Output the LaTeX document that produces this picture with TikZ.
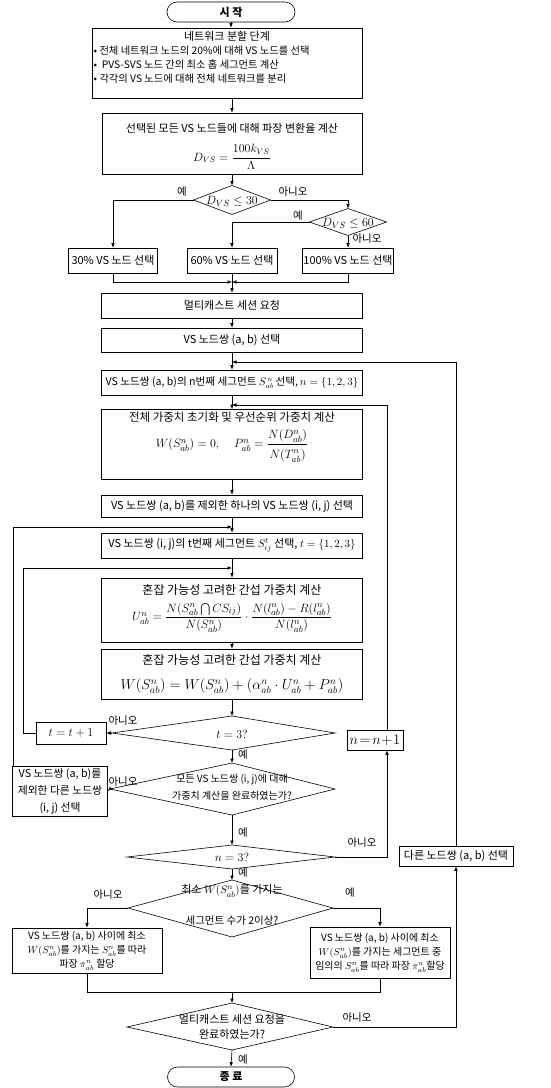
\documentclass[tikz,border=0pt]{standalone}
\usepackage{amsmath}
\usepackage{fontspec}
\setmainfont{Noto Sans CJK KR}
\usetikzlibrary{arrows.meta,shapes.misc}
\begin{document}
\begin{tikzpicture}[x=1pt,y=-1pt,
  every node/.style={inner sep=0.5pt,font=\fontsize{11}{13}\selectfont},
  box/.style={draw,line width=0.6pt,rectangle,inner sep=1pt},
  term/.style={draw,line width=0.6pt,rounded rectangle,minimum width=129,minimum height=20,font=\fontsize{11}{13}\selectfont\bfseries},
  ln/.style={line width=0.6pt},
  arr/.style={line width=0.6pt,-{Latex[length=4.5pt,width=3.6pt]}},
  lbl/.style={font=\fontsize{10.5}{12}\selectfont},
  fml/.style={font=\fontsize{13}{15}\selectfont},
  ttl/.style={font=\fontsize{12}{14}\selectfont},
]
\useasboundingbox (0,0) rectangle (550,1088);

% ---------- nodes ----------
\node[term] (start) at (231,12) {시 작};

\node[box,minimum width=270,minimum height=70] (b1) at (227,63) {};
\node (b1t) at (227,36) {네트워크 분할 단계};
\node[anchor=west,align=left,font=\fontsize{10.3}{14}\selectfont] (b1l) at (93,65)
  {• 전체 네트워크 노드의 20\%에 대해 VS 노드를 선택\\•\ \ PVS-SVS 노드 간의 최소 홉 세그먼트 계산\\• 각각의 VS 노드에 대해 전체 네트워크를 분리};

\node[box,minimum width=260,minimum height=61] (b2) at (232,143.5) {};
\node (b2t) at (232,128) {선택된 모든 VS 노드들에 대해 파장 변환율 계산};
\node[font=\fontsize{11.5}{13}\selectfont] (b2f) at (232,157) {$D_{VS} = \dfrac{100k_{VS}}{\Lambda}$};

% diamond 1
\coordinate (d1n) at (232,185.5); \coordinate (d1e) at (270.5,200);
\coordinate (d1s) at (232,214.5); \coordinate (d1w) at (193.5,200);
\draw[ln] (d1n) -- (d1e) -- (d1s) -- (d1w) -- cycle;
\node[fml] (d1t) at (232,201) {$D_{VS}\le 30$};
% diamond 2
\coordinate (d2n) at (348,208.5); \coordinate (d2e) at (386.5,222);
\coordinate (d2s) at (348,235.5); \coordinate (d2w) at (309.5,222);
\draw[ln] (d2n) -- (d2e) -- (d2s) -- (d2w) -- cycle;
\node[fml] (d2t) at (348,223) {$D_{VS}\le 60$};

\node[box,minimum width=89,minimum height=25] (p30) at (113,260.5) {30\% VS 노드 선택};
\node[box,minimum width=90,minimum height=25] (p60) at (232,260.5) {60\% VS 노드 선택};
\node[box,minimum width=90,minimum height=25] (p100) at (348,260.5) {100\% VS 노드 선택};
\coordinate (m1) at (232,282);

\node[box,minimum width=261,minimum height=25] (b3) at (232,305.5) {멀티캐스트 세션 요청};
\node[box,minimum width=261,minimum height=24] (b4) at (232,340) {VS 노드쌍 (a, b) 선택};
\coordinate (m2) at (232,362);
\node[box,minimum width=261,minimum height=25,font=\fontsize{10.6}{13}\selectfont] (b5) at (232,382.5)
  {VS 노드쌍 (a, b)의 n번째 세그먼트 $S^{\,n}_{ab}$\,선택,$\,n = \{1, 2, 3\}$};
\coordinate (m3) at (232,405);

\node[box,minimum width=261,minimum height=70] (b6) at (232,444.5) {};
\node[font=\fontsize{11.5}{13}\selectfont] (b6t) at (232,417) {전체 가중치 초기화 및 우선순위 가중치 계산};
\node[fml] (b6f) at (232,446)
  {$W(S^n_{ab}) = 0,\quad P^n_{ab} = \dfrac{N(D^n_{ab})\rule[-3pt]{0pt}{0pt}}{\rule{0pt}{12pt}N(T^n_{ab})}$};

\node[box,minimum width=261,minimum height=22] (b7) at (232,506)
  {VS 노드쌍 (a, b)를 제외한 하나의 VS 노드쌍 (i, j) 선택};
\coordinate (m4) at (232,527);
\node[box,minimum width=261,minimum height=25] (b8) at (232,545.5)
  {VS 노드쌍 (i, j)의 t번째 세그먼트 $S^t_{ij}$ 선택, $t = \{1, 2, 3\}$};
\coordinate (m5) at (232,568);

\node[box,minimum width=261,minimum height=64] (b9) at (232,610) {};
\node[ttl] (b9t) at (232,590) {혼잡 가능성 고려한 간섭 가중치 계산};
\node[fml] (b9f) at (232,618)
  {$U^n_{ab} = \dfrac{N(S^n_{ab}\bigcap CS_{ij})}{N(S^n_{ab})}\cdot\dfrac{N(l^n_{ab})-R(l^n_{ab})}{N(l^n_{ab})}$};

\node[box,minimum width=261,minimum height=50] (b10) at (232,674) {};
\node[ttl] (b10t) at (232,660) {혼잡 가능성 고려한 간섭 가중치 계산};
\node[font=\fontsize{14}{16}\selectfont] (b10f) at (232,686)
  {$W(S^n_{ab}) = W(S^n_{ab}) + (\alpha^n_{ab}\cdot U^n_{ab} + P^n_{ab})$};

% diamond 3: t = 3?
\coordinate (d3n) at (232,716); \coordinate (d3e) at (335,733);
\coordinate (d3s) at (232,750); \coordinate (d3w) at (112,733);
\draw[ln] (d3n) -- (d3e) -- (d3s) -- (d3w) -- cycle;
\node[fml] (d3t) at (232,734) {$t = 3?$};
\node[box,minimum width=70,minimum height=22,font=\fontsize{13}{15}\selectfont] (tbox) at (71,733) {$t = t + 1$};
\coordinate (lt) at (23,568);

% diamond 4
\coordinate (d4n) at (232,763); \coordinate (d4e) at (335,789);
\coordinate (d4s) at (232,815); \coordinate (d4w) at (110,789);
\draw[ln] (d4n) -- (d4e) -- (d4s) -- (d4w) -- cycle;
\node[align=center,font=\fontsize{10}{17}\selectfont] (d4t) at (232,787)
  {모든 VS 노드쌍 (i, j)에 대해\\가중치 계산을 완료하였는가?};
\node[box,minimum width=95,minimum height=50,align=center,font=\fontsize{10.8}{17}\selectfont] (obox) at (60,791)
  {VS 노드쌍 (a, b)를\\제외한 다른 노드쌍\\(i, j) 선택};
\coordinate (lo) at (13,527);

% diamond 5: n = 3?
\coordinate (d5n) at (232,845); \coordinate (d5e) at (335,857);
\coordinate (d5s) at (232,869); \coordinate (d5w) at (127,857);
\draw[ln] (d5n) -- (d5e) -- (d5s) -- (d5w) -- cycle;
\node[fml] (d5t) at (232,857) {$n = 3?$};
\node[box,minimum width=56,minimum height=20,font=\fontsize{14}{16}\selectfont] (nbox) at (375,740) {$n\!=\!n\!+\!1$};
\coordinate (rx) at (387,857);

% diamond 6
\coordinate (d6n) at (232,880); \coordinate (d6e) at (333,908);
\coordinate (d6s) at (232,937); \coordinate (d6w) at (128,908);
\draw[ln] (d6n) -- (d6e) -- (d6s) -- (d6w) -- cycle;
\node (d6a) at (232,891) {최소 $\fontsize{12}{14}\selectfont W(S^n_{ab})$를 가지는};
\node[font=\fontsize{10.5}{12}\selectfont] (d6b) at (232,921) {세그먼트 수가 2이상?};

\node[box,minimum width=150,minimum height=45,align=center,font=\fontsize{10}{14}\selectfont] (lbox) at (87,950.5)
  {VS 노드쌍 (a, b) 사이에 최소\\$W(S^n_{ab})$를 가지는 $S^n_{ab}$를 따라\\파장 $\pi^n_{ab}$ 할당};
\node[box,minimum width=140,minimum height=51,align=center,font=\fontsize{10}{14}\selectfont] (rbox) at (380,952.5)
  {VS 노드쌍 (a, b) 사이에 최소\\$W(S^n_{ab})$를 가지는 세그먼트 중\\임의의 $S^n_{ab}$를 따라 파장 $\pi^n_{ab}$할당};
\coordinate (m6) at (232,992);

% diamond 7
\coordinate (d7n) at (232,1003); \coordinate (d7e) at (333,1027);
\coordinate (d7s) at (232,1050); \coordinate (d7w) at (127,1027);
\draw[ln] (d7n) -- (d7e) -- (d7s) -- (d7w) -- cycle;
\node[align=center,font=\fontsize{11}{15}\selectfont] (d7t) at (232,1027)
  {멀티캐스트 세션 요청을\\완료하였는가?};

\node[box,minimum width=114,minimum height=20] (xbox) at (456,856) {다른 노드쌍 (a, b) 선택};

\node[term,minimum width=128] (stop) at (231,1077) {종 료};

% ---------- connectors ----------
\draw[arr] (start.south) -- (start.south |- b1.north);
\draw[arr] (b2.north |- b1.south) -- (b2.north);
\draw[arr] (b2.south) -- (d1n);
\draw[arr] (d1w) -| (p30.north);
\draw[arr] (d1e) -| (d2n);
\draw[arr] (d2w) -| (p60.north);
\draw[arr] (d2s) -- (p100.north);
\draw[arr] (p30.south) |- (m1);
\draw[arr] (p100.south) |- (m1);
\draw[ln] (p60.south) -- (m1);
\draw[arr] (m1) -- (b3.north);
\draw[arr] (b3.south) -- (b4.north);
\draw[arr] (b4.south) -- (b5.north);
\draw[arr] (b5.south) -- (b6.north);
\draw[arr] (b6.south) -- (b7.north);
\draw[arr] (b7.south) -- (b8.north);
\draw[arr] (b8.south) -- (b9.north);
\draw[arr] (b9.south) -- (b10.north);
\draw[arr] (b10.south) -- (d3n);
\draw[arr] (d3w) -- (tbox.east);
\draw[arr] (tbox.west) -| (lt) -- (m5);
\draw[arr] (d3s) -- (d4n);
\draw[arr] (d4w) -- (obox.east);
\draw[arr] (obox.north -| lo) -- (lo) -- (m4);
\draw[arr] (d4s) -- (d5n);
\draw[arr] (d5e) -- (rx) -- (rx |- nbox.south);
\draw[arr] (rx |- nbox.north) |- (m3);
\draw[arr] (d5s) -- (d6n);
\draw[arr] (d6w) -| (lbox.north);
\draw[arr] (d6e) -| (rbox.north);
\draw[ln] (lbox.south) |- (m6);
\draw[ln] (rbox.south) |- (m6);
\draw[arr] (m6) -- (d7n);
\draw[arr] (d7e) -| (xbox.south);
\draw[arr] (xbox.north) |- (m2);
\draw[arr] (d7s) -- (stop.north);

% ---------- labels ----------
\node[lbl] (y1) at (182,192) {예};
\node[lbl] (n1) at (293,192) {아니오};
\node[lbl] (y2) at (298,216) {예};
\node[lbl] (n2) at (367,239) {아니오};
\node[lbl] (n3) at (123,721) {아니오};
\node[lbl] (y3) at (243,755) {예};
\node[lbl] (n4) at (123,782) {아니오};
\node[lbl] (y4) at (243,833) {예};
\node[lbl] (n5) at (362,843) {아니오};
\node[lbl] (y5) at (243,873) {예};
\node[lbl] (n6) at (108,895) {아니오};
\node[lbl] (y6) at (350,893) {예};
\node[lbl] (n7) at (357,1018) {아니오};
\node[lbl] (y7) at (243,1060) {예};
\end{tikzpicture}
\end{document}
